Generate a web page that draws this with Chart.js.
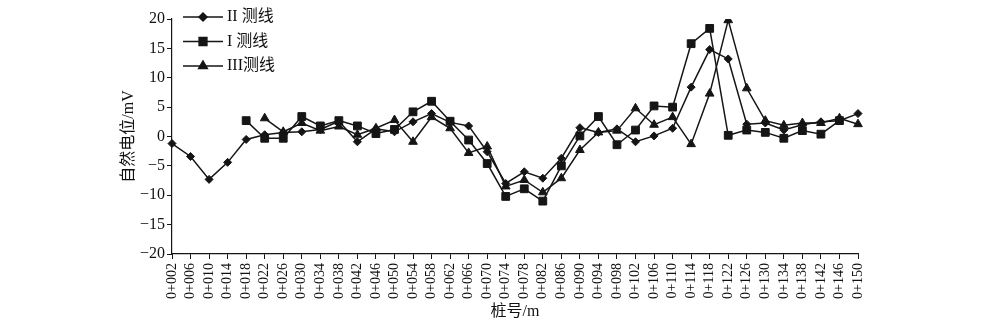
<!DOCTYPE html>
<html>
<head>
<meta charset="utf-8">
<script src="https://cdn.jsdelivr.net/npm/chart.js@4/dist/chart.umd.min.js"></script>
<style>
  html, body { margin: 0; padding: 0; background: #fff; }
  #wrap { width: 1000px; height: 323px; position: relative; }
</style>
</head>
<body>
<div id="wrap"><canvas id="chart"></canvas></div>
<script>
// stations along the survey line
const stations = ['0+002','0+006','0+010','0+014','0+018','0+022','0+026','0+030','0+034','0+038',
  '0+042','0+046','0+050','0+054','0+058','0+062','0+066','0+070','0+074','0+078',
  '0+082','0+086','0+090','0+094','0+098','0+102','0+106','0+110','0+114','0+118',
  '0+122','0+126','0+130','0+134','0+138','0+142','0+146','0+150'];

// self potential, mV
const lineII = [-1.2, -3.4, -7.3, -4.4, -0.5, 0.3, 0.7, 0.8, 1.2, 2.6,
  -0.9, 1.3, 0.8, 2.5, 3.9, 2.4, 1.8, -2.6, -8.0, -6.0,
  -7.1, -3.7, 1.5, 0.7, 1.3, -0.9, 0.1, 1.4, 8.4, 14.8,
  13.2, 2.1, 2.3, 1.1, 2.0, 2.5, 2.7, 3.9];
const lineI = [null, null, null, null, 2.7, -0.3, -0.3, 3.4, 1.8, 2.7,
  1.8, 0.5, 1.2, 4.2, 6.0, 2.6, -0.6, -4.6, -10.2, -8.9,
  -11.0, -5.0, 0.1, 3.4, -1.4, 1.1, 5.2, 5.0, 15.8, 18.4,
  0.2, 1.1, 0.7, -0.3, 1.0, 0.4, 2.7, null];
const lineIII = [null, null, null, null, null, 3.1, 0.8, 2.3, 1.0, 1.7,
  0.3, 1.4, 2.8, -0.9, 3.3, 1.4, -2.8, -1.7, -8.5, -7.4,
  -9.5, -7.1, -2.3, 0.7, 1.0, 4.8, 2.0, 3.3, -1.3, 7.3,
  19.8, 8.2, 2.7, 1.9, 2.3, 2.3, 3.1, 2.1];

const seriesNames = ['II 测线', 'I 测线', 'III测线'];

const ink = '#151515';
const serif = "'Liberation Serif', 'Noto Sans CJK SC', serif";

function ds(label, data, style, radius) {
  return {
    label: label,
    data: data,
    borderColor: ink,
    backgroundColor: ink,
    borderWidth: 1.5,
    pointStyle: style,
    pointRadius: radius,
    pointBackgroundColor: ink,
    pointBorderColor: ink,
    pointBorderWidth: 1,
    tension: 0,
    spanGaps: false
  };
}

// legend drawn inside the plot, top left
const insideLegend = {
  id: 'insideLegend',
  afterDraw(chart) {
    const ctx = chart.ctx;
    const area = chart.chartArea;
    const x0 = area.left + 11, x1 = area.left + 51;
    ctx.save();
    chart.data.datasets.forEach((d, i) => {
      const y = area.top - 2 + i * 24.5;
      ctx.strokeStyle = ink;
      ctx.lineWidth = 1.5;
      ctx.beginPath();
      ctx.moveTo(x0, y);
      ctx.lineTo(x1, y);
      ctx.stroke();
      ctx.fillStyle = ink;
      Chart.helpers.drawPoint(ctx, { pointStyle: d.pointStyle, radius: d.pointRadius, borderWidth: 1 }, (x0 + x1) / 2, y);
      ctx.fillStyle = '#111';
      ctx.font = "16px " + serif;
      ctx.textBaseline = 'middle';
      ctx.textAlign = 'left';
      ctx.fillText(d.label, x1 + 4, y);
    });
    ctx.restore();
  }
};

new Chart(document.getElementById('chart'), {
  type: 'line',
  data: {
    labels: stations,
    datasets: [
      ds(seriesNames[0], lineII, 'rectRot', 4),
      ds(seriesNames[1], lineI, 'rect', 5.5),
      ds(seriesNames[2], lineIII, 'triangle', 5)
    ]
  },
  options: {
    responsive: true,
    maintainAspectRatio: false,
    animation: false,
    layout: { padding: { left: 119, right: 142, top: 19, bottom: 0 } },
    plugins: {
      legend: { display: false },
      tooltip: { enabled: false }
    },
    scales: {
      x: {
        offset: false,
        afterFit: s => { s.height = 69; },
        border: { color: ink, width: 1.2 },
        grid: { drawOnChartArea: false, drawTicks: true, tickLength: 5, color: ink },
        ticks: {
          color: '#111',
          font: { family: serif, size: 14 },
          minRotation: 90,
          maxRotation: 90,
          autoSkip: false,
          padding: 4
        },
        title: {
          display: true,
          text: '桩号/m',
          color: '#111',
          font: { family: serif, size: 16 },
          padding: { top: 0, bottom: 2 }
        }
      },
      y: {
        min: -20,
        max: 20,
        afterFit: s => { s.width = 53; },
        border: { color: ink, width: 1.2 },
        grid: { drawOnChartArea: false, drawTicks: true, tickLength: 5, color: ink },
        ticks: {
          stepSize: 5,
          color: '#111',
          font: { family: serif, size: 16 },
          padding: 2,
          callback: v => String(v).replace('-', '\u2212')
        },
        title: {
          display: true,
          text: '自然电位/mV',
          color: '#111',
          font: { family: serif, size: 16 },
          padding: { top: 0, bottom: 2 }
        }
      }
    }
  },
  plugins: [insideLegend]
});
</script>
</body>
</html>
